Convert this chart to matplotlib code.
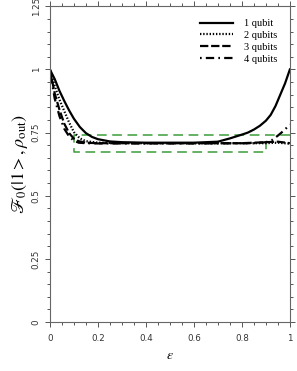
import matplotlib
matplotlib.use("Agg")
import matplotlib.pyplot as plt
from matplotlib.ticker import MultipleLocator

plt.rcParams['mathtext.fontset'] = 'stix'
plt.rcParams['lines.scale_dashes'] = False

# values
eps_1 = [0, 0.02, 0.04, 0.06, 0.08, 0.1, 0.125, 0.15, 0.175, 0.2, 0.25, 0.3, 0.4, 0.5,
         0.6, 0.7, 0.75, 0.8, 0.825, 0.85, 0.875, 0.9, 0.92, 0.94, 0.96, 0.98, 1.0]
fid_1 = [1.0, 0.962, 0.915, 0.875, 0.838, 0.805, 0.772, 0.748, 0.733, 0.724, 0.715, 0.712, 0.71, 0.71,
         0.71, 0.714, 0.727, 0.742, 0.75, 0.762, 0.777, 0.797, 0.82, 0.855, 0.90, 0.945, 1.0]

eps_2 = [0, 0.02, 0.04, 0.06, 0.08, 0.1, 0.125, 0.15, 0.2, 0.4, 0.6, 0.8, 0.9, 0.95, 1.0]
fid_2 = [1.0, 0.935, 0.88, 0.835, 0.79, 0.752, 0.727, 0.716, 0.71, 0.708, 0.708, 0.708, 0.708, 0.71, 0.706]

eps_3 = [0, 0.02, 0.04, 0.06, 0.08, 0.1, 0.12, 0.15, 0.2, 0.4, 0.6, 0.8, 0.9, 0.95, 1.0]
fid_3 = [1.0, 0.905, 0.84, 0.785, 0.748, 0.726, 0.716, 0.71, 0.708, 0.708, 0.708, 0.708, 0.712, 0.714, 0.708]

eps_4 = [0, 0.02, 0.04, 0.06, 0.08, 0.1, 0.12, 0.15, 0.2, 0.4, 0.6, 0.85, 0.9, 0.925, 0.95, 0.975, 1.0]
fid_4 = [1.0, 0.885, 0.815, 0.765, 0.735, 0.718, 0.71, 0.708, 0.707, 0.707, 0.707, 0.708, 0.712, 0.72, 0.738, 0.758, 0.782]

# green dashed guide box
box_x = [1.0, 0.1, 0.1, 0.9, 0.9]
box_y = [0.739, 0.739, 0.675, 0.675, 0.71]

labels = ['1 qubit', '2 qubits', '3 qubits', '4 qubits']

fig = plt.figure(figsize=(2.97, 3.71), dpi=100)
ax = fig.add_axes([0.168, 0.132, 0.808, 0.851])

ax.plot(box_x, box_y, color='#3c9c3c', lw=1.1, linestyle=(0, (7, 4)))
ax.plot(eps_1, fid_1, color='black', lw=1.6, linestyle='-', label=labels[0])
ax.plot(eps_2, fid_2, color='black', lw=1.6, linestyle=(0, (1, 1.3)), label=labels[1])
ax.plot(eps_3, fid_3, color='black', lw=1.6, linestyle=(0, (6, 2)), label=labels[2])
ax.plot(eps_4, fid_4, color='black', lw=1.6, linestyle=(0, (1.2, 3, 6, 3)), label=labels[3])

ax.set_xlim(0, 1)
ax.set_ylim(0, 1.25)
ax.xaxis.set_minor_locator(MultipleLocator(0.05))
ax.yaxis.set_minor_locator(MultipleLocator(0.05))
ax.set_xticks([0, 0.2, 0.4, 0.6, 0.8, 1])
ax.set_xticklabels(['0', '0.2', '0.4', '0.6', '0.8', '1'])
ax.set_yticks([0, 0.25, 0.5, 0.75, 1, 1.25])
ax.set_yticklabels(['0', '0.25', '0.5', '0.75', '1', '1.25'], rotation=90, va='center')
ax.tick_params(which='both', direction='out', top=True, right=True, colors='#555555',
               labelcolor='#333333', labelsize=6.3, width=0.7)
ax.tick_params(which='major', length=3.5)
ax.tick_params(which='minor', length=2)
ax.tick_params(axis='x', pad=5)
ax.tick_params(axis='y', pad=3)
for s in ax.spines.values():
    s.set_color('#666666')
    s.set_linewidth(0.8)

ax.set_xlabel(r'$\varepsilon$', fontsize=10, labelpad=4)
ax.set_ylabel(r'$\mathscr{F}_0(|1>, \rho_{\mathrm{out}})$', fontsize=13, labelpad=1)

ax.legend(loc='upper left', bbox_to_anchor=(0.625, 0.96), frameon=False,
          prop={'family': 'Liberation Serif', 'size': 7.5}, handlelength=3.2,
          handletextpad=1.0, labelspacing=0.25, borderpad=0, borderaxespad=0)

fig.savefig('out.png', dpi=100)
